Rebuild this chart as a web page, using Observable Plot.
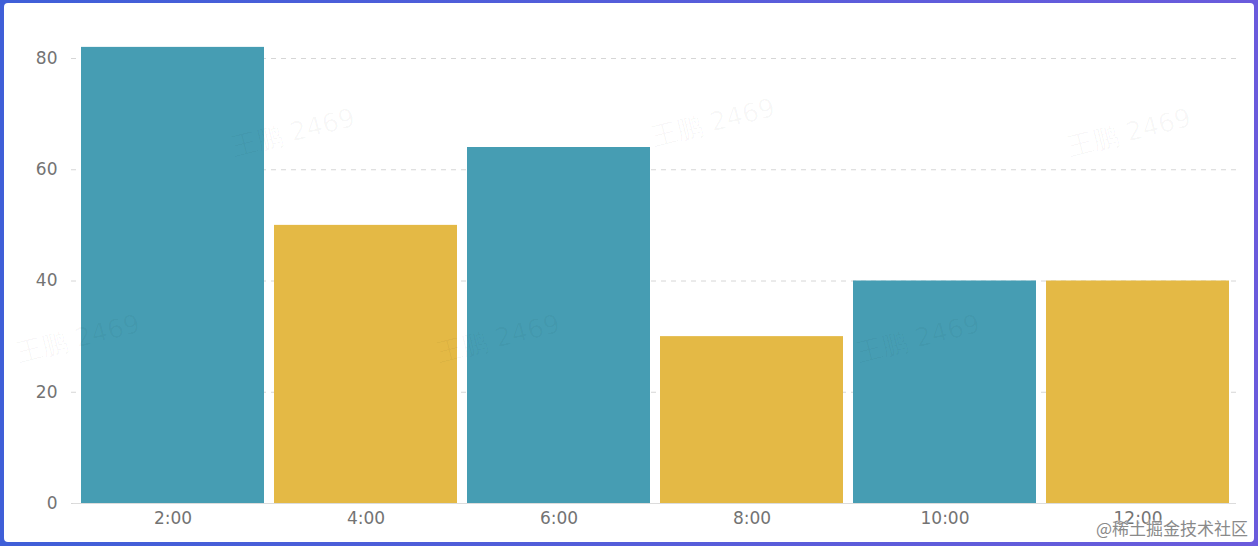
<!DOCTYPE html>
<html>
<head>
<meta charset="utf-8">
<script src="https://cdn.jsdelivr.net/npm/d3@7"></script>
<script src="https://cdn.jsdelivr.net/npm/@observablehq/plot@0.6"></script>
<style>
  html, body { margin: 0; padding: 0; }
  body { width: 1258px; height: 546px; background: linear-gradient(90deg, #3f5fd8, #6a5bdc); position: relative; overflow: hidden; font-family: "DejaVu Sans", sans-serif; }
  #card { position: absolute; left: 4px; top: 3px; width: 1250px; height: 539px; background: #ffffff; border-radius: 4px; overflow: hidden; }
  .wm { position: absolute; color: rgba(0,0,0,0.03); font-size: 26px; transform: rotate(-14deg); white-space: nowrap; pointer-events: none; }
  #credit { position: absolute; right: 6px; bottom: 2px; font-family: "Noto Sans CJK SC", serif; font-size: 17px; color: #8a8a8a; text-shadow: 0 0 2px #fff, 0 0 2px #fff; }
</style>
</head>
<body>
<div id="card"></div>
<script>
const categories = ["2:00", "4:00", "6:00", "8:00", "10:00", "12:00"];
const values = [82, 50, 64, 30, 40, 40];
const barColors = ["#469db3", "#e4b945", "#469db3", "#e4b945", "#469db3", "#e4b945"];
const yTicks = [0, 20, 40, 60, 80];

const data = categories.map((c, i) => ({time: c, value: values[i], color: barColors[i]}));

const chart = Plot.plot({
  width: 1250,
  height: 539,
  marginTop: 55,
  marginBottom: 39,
  marginLeft: 71,
  marginRight: 18,
  style: {fontFamily: "'DejaVu Sans', sans-serif", fontSize: "17px", color: "#737373", background: "transparent"},
  x: {domain: categories, paddingInner: 0.05, paddingOuter: 0.025, label: null},
  y: {domain: [0, 80], label: null},
  marks: [
    Plot.gridY(yTicks, {stroke: "#d6d6d6", strokeOpacity: 1, strokeDasharray: "5,5", insetLeft: -4, insetRight: -4}),
    Plot.barY(data, {x: "time", y: "value", fill: "color"}),
    Plot.ruleY([0], {stroke: "#dcdcdc", insetLeft: -2}),
    Plot.axisY(yTicks, {tickSize: 0, tickPadding: 18, fill: "#737373", fontSize: 17}),
    Plot.axisX({tickSize: 0, tickPadding: 8, fill: "#737373", fontSize: 17})
  ]
});
const card = document.getElementById("card");
card.appendChild(chart);

const marks = [[226,112],[646,102],[1062,112],[11,318],[431,318],[851,318]];
for (const [l, t] of marks) {
  const d = document.createElement("div");
  d.className = "wm"; d.textContent = "王鹏 2469";
  d.style.left = l + "px"; d.style.top = t + "px";
  card.appendChild(d);
}
const credit = document.createElement("div");
credit.id = "credit"; credit.textContent = "@稀土掘金技术社区";
card.appendChild(credit);
</script>
</body>
</html>
